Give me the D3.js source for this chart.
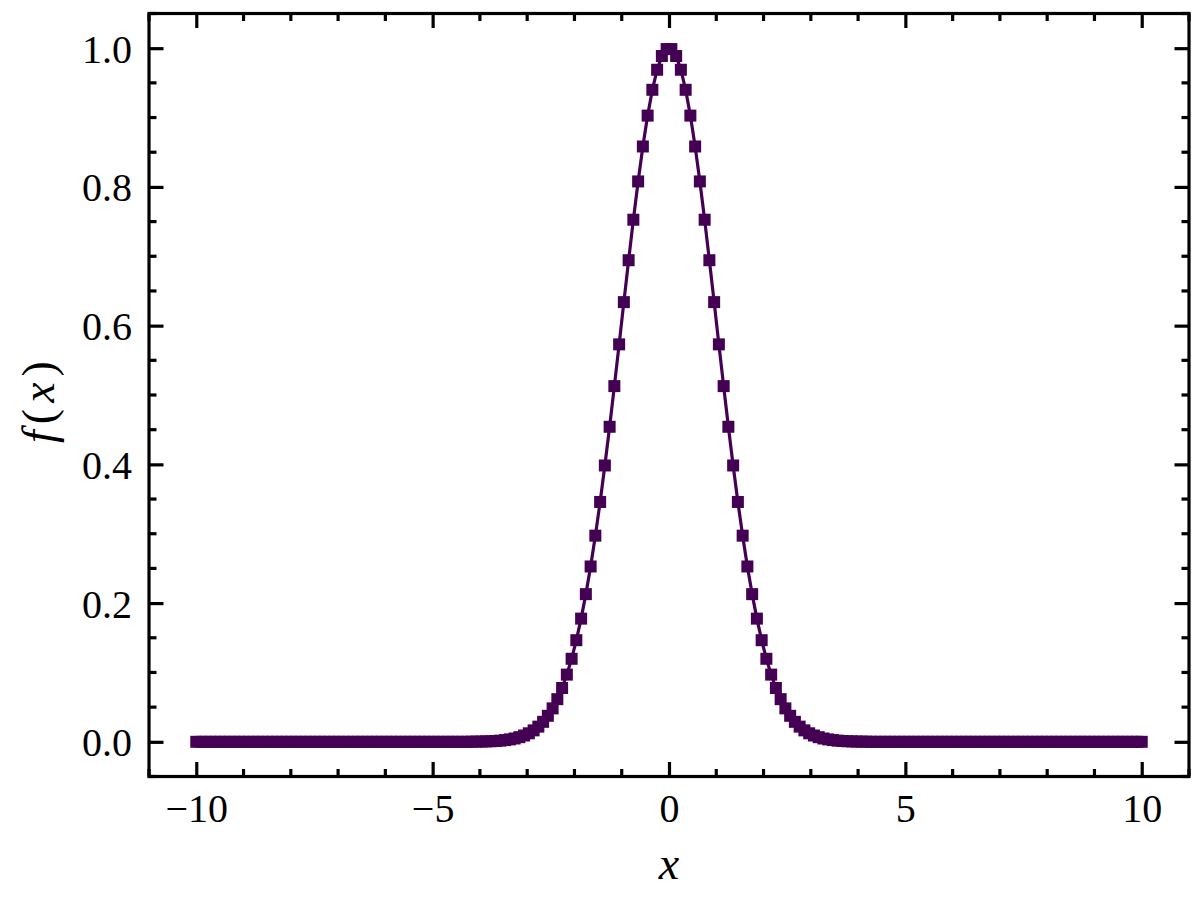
<!DOCTYPE html>
<html lang="en">
<head>
    <meta charset="UTF-8">
    <title>Gaussian</title>
    <script src="https://d3js.org/d3.v7.min.js"></script>
    <style>
        body{
            margin: 0;
            background: white;
        }
        .tick-label{
            font-family: "Liberation Serif", serif;
            font-size: 40px;
            fill: black;
        }
        .axis-label{
            font-family: "Liberation Serif", serif;
            font-style: italic;
            font-size: 46px;
            fill: black;
        }
    </style>
</head>
<body>
    <script>
        // x grid (200 points from -10 to 10)
        const xValues = [
            -10.000, -9.899, -9.799, -9.698, -9.598, -9.497, -9.397, -9.296, -9.196, -9.095,
            -8.995, -8.894, -8.794, -8.693, -8.593, -8.492, -8.392, -8.291, -8.191, -8.090,
            -7.990, -7.889, -7.789, -7.688, -7.588, -7.487, -7.387, -7.286, -7.186, -7.085,
            -6.985, -6.884, -6.784, -6.683, -6.583, -6.482, -6.382, -6.281, -6.181, -6.080,
            -5.980, -5.879, -5.779, -5.678, -5.578, -5.477, -5.377, -5.276, -5.176, -5.075,
            -4.975, -4.874, -4.774, -4.673, -4.573, -4.472, -4.372, -4.271, -4.171, -4.070,
            -3.970, -3.869, -3.769, -3.668, -3.568, -3.467, -3.367, -3.266, -3.166, -3.065,
            -2.965, -2.864, -2.764, -2.663, -2.563, -2.462, -2.362, -2.261, -2.161, -2.060,
            -1.960, -1.859, -1.759, -1.658, -1.558, -1.457, -1.357, -1.256, -1.156, -1.055,
            -0.955, -0.854, -0.754, -0.653, -0.553, -0.452, -0.352, -0.251, -0.151, -0.050,
            0.050, 0.151, 0.251, 0.352, 0.452, 0.553, 0.653, 0.754, 0.854, 0.955,
            1.055, 1.156, 1.256, 1.357, 1.457, 1.558, 1.658, 1.759, 1.859, 1.960,
            2.060, 2.161, 2.261, 2.362, 2.462, 2.563, 2.663, 2.764, 2.864, 2.965,
            3.065, 3.166, 3.266, 3.367, 3.467, 3.568, 3.668, 3.769, 3.869, 3.970,
            4.070, 4.171, 4.271, 4.372, 4.472, 4.573, 4.673, 4.774, 4.874, 4.975,
            5.075, 5.176, 5.276, 5.377, 5.477, 5.578, 5.678, 5.779, 5.879, 5.980,
            6.080, 6.181, 6.281, 6.382, 6.482, 6.583, 6.683, 6.784, 6.884, 6.985,
            7.085, 7.186, 7.286, 7.387, 7.487, 7.588, 7.688, 7.789, 7.889, 7.990,
            8.090, 8.191, 8.291, 8.392, 8.492, 8.593, 8.693, 8.794, 8.894, 8.995,
            9.095, 9.196, 9.296, 9.397, 9.497, 9.598, 9.698, 9.799, 9.899, 10.000
        ]

        // f(x) values
        const fValues = [
            0, 0, 0, 0, 0, 0, 0, 0, 0, 0,
            0, 0, 0, 0, 0, 0, 0, 0, 0, 0,
            0, 0, 0, 0, 0, 0, 0, 0, 0, 0,
            0, 0, 0, 0, 0, 0, 0, 0, 0, 0,
            0, 0, 0, 0, 0, 0, 0, 0, 0, 0,
            0, 0, 0, 0, 0, 0, 0, 0, 0.0002, 0.0003,
            0.0004, 0.0006, 0.0008, 0.0012, 0.0017, 0.0025, 0.0035, 0.0048, 0.0067, 0.0091,
            0.0123, 0.0165, 0.0219, 0.0288, 0.0375, 0.0482, 0.0615, 0.0776, 0.0969, 0.1197,
            0.1465, 0.1776, 0.2129, 0.2528, 0.2972, 0.3458, 0.3984, 0.4542, 0.5128, 0.5730,
            0.6339, 0.6943, 0.7527, 0.8079, 0.8583, 0.9028, 0.9400, 0.9689, 0.9887, 0.9987,
            0.9987, 0.9887, 0.9689, 0.9400, 0.9028, 0.8583, 0.8079, 0.7527, 0.6943, 0.6339,
            0.5730, 0.5128, 0.4542, 0.3984, 0.3458, 0.2972, 0.2528, 0.2129, 0.1776, 0.1465,
            0.1197, 0.0969, 0.0776, 0.0615, 0.0482, 0.0375, 0.0288, 0.0219, 0.0165, 0.0123,
            0.0091, 0.0067, 0.0048, 0.0035, 0.0025, 0.0017, 0.0012, 0.0008, 0.0006, 0.0004,
            0.0003, 0.0002, 0, 0, 0, 0, 0, 0, 0, 0,
            0, 0, 0, 0, 0, 0, 0, 0, 0, 0,
            0, 0, 0, 0, 0, 0, 0, 0, 0, 0,
            0, 0, 0, 0, 0, 0, 0, 0, 0, 0,
            0, 0, 0, 0, 0, 0, 0, 0, 0, 0,
            0, 0, 0, 0, 0, 0, 0, 0, 0, 0
        ]

        const xMajorTicks = [-10, -5, 0, 5, 10]
        const xMinorTicks = [-11, -9, -8, -7, -6, -4, -3, -2, -1, 1, 2, 3, 4, 6, 7, 8, 9, 11]
        const yMajorTicks = [0, 0.2, 0.4, 0.6, 0.8, 1.0]
        const yMinorTicks = [-0.05, 0.05, 0.1, 0.15, 0.25, 0.3, 0.35, 0.45, 0.5, 0.55,
                             0.65, 0.7, 0.75, 0.85, 0.9, 0.95, 1.05]

        const data = xValues.map((x,i)=> ({x:x, y:fValues[i]}))

        const svgSize = {width:1204,height:904}
        const plot = {left:149,right:1189,top:13.5,bottom:776.5}
        const color = "#440154"
        const majorLen = 14.5, minorLen = 7.5, lw = 3.2

        const xScale = d3.scaleLinear().domain([-11,11]).range([plot.left,plot.right])
        const yScale = d3.scaleLinear().domain([-0.05,1.05]).range([plot.bottom,plot.top])

        const svg = d3.select("body")
                        .append("svg")
                        .attr("width",svgSize.width)
                        .attr("height",svgSize.height)

        // data: line first, then square markers
        const line = d3.line().x(d=> xScale(d.x)).y(d=> yScale(d.y))
        const clip = svg.append("clipPath").attr("id","clip")
        clip.append("rect")
            .attr("x",plot.left).attr("y",plot.top)
            .attr("width",plot.right-plot.left).attr("height",plot.bottom-plot.top)

        const dataG = svg.append("g").attr("clip-path","url(#clip)")
        dataG.append("path")
                .datum(data)
                .attr("d",line)
                .attr("fill","none")
                .attr("stroke",color)
                .attr("stroke-width",3.2)

        const ms = 12
        dataG.selectAll(".marker")
                .data(data)
                .enter()
                .append("rect")
                .attr("class","marker")
                .attr("x",d=> xScale(d.x)-ms/2)
                .attr("y",d=> yScale(d.y)-ms/2)
                .attr("width",ms)
                .attr("height",ms)
                .attr("fill",color)

        // inward ticks on all four sides
        const xAxisBottom = d3.axisBottom(xScale).tickValues(xMajorTicks).tickSize(-majorLen).tickFormat(d3.format("d")).tickPadding(17)
        const xAxisTop = d3.axisTop(xScale).tickValues(xMajorTicks).tickSize(-majorLen).tickFormat("")
        const yAxisLeft = d3.axisLeft(yScale).tickValues(yMajorTicks).tickSize(-majorLen).tickFormat(d3.format(".1f")).tickPadding(17)
        const yAxisRight = d3.axisRight(yScale).tickValues(yMajorTicks).tickSize(-majorLen).tickFormat("")

        function styleAxis(g){
            g.select(".domain").remove()
            g.selectAll(".tick line").attr("stroke","black").attr("stroke-width",lw)
            g.selectAll(".tick text").attr("class","tick-label").attr("fill","black")
        }

        const gB = svg.append("g").attr("transform",`translate(0,${plot.bottom})`).call(xAxisBottom).call(styleAxis)
        gB.selectAll(".tick text").attr("font-family",null).attr("font-size",null).attr("dy","0.71em")
        svg.append("g").attr("transform",`translate(0,${plot.top})`).call(xAxisTop).call(styleAxis)
        const gL = svg.append("g").attr("transform",`translate(${plot.left},0)`).call(yAxisLeft).call(styleAxis)
        gL.selectAll(".tick text").attr("dy","0.35em")
        svg.append("g").attr("transform",`translate(${plot.right},0)`).call(yAxisRight).call(styleAxis)

        // minor ticks
        const minorG = svg.append("g")
        minorG.selectAll(".mxb").data(xMinorTicks).enter().append("line")
                .attr("x1",d=> xScale(d)).attr("x2",d=> xScale(d))
                .attr("y1",plot.bottom).attr("y2",plot.bottom-minorLen)
        minorG.selectAll(".mxt").data(xMinorTicks).enter().append("line")
                .attr("x1",d=> xScale(d)).attr("x2",d=> xScale(d))
                .attr("y1",plot.top).attr("y2",plot.top+minorLen)
        minorG.selectAll(".myl").data(yMinorTicks).enter().append("line")
                .attr("y1",d=> yScale(d)).attr("y2",d=> yScale(d))
                .attr("x1",plot.left).attr("x2",plot.left+minorLen)
        minorG.selectAll(".myr").data(yMinorTicks).enter().append("line")
                .attr("y1",d=> yScale(d)).attr("y2",d=> yScale(d))
                .attr("x1",plot.right).attr("x2",plot.right-minorLen)
        minorG.selectAll("line").attr("stroke","black").attr("stroke-width",lw)

        // frame
        svg.append("rect")
            .attr("x",plot.left).attr("y",plot.top)
            .attr("width",plot.right-plot.left).attr("height",plot.bottom-plot.top)
            .attr("fill","none")
            .attr("stroke","black")
            .attr("stroke-width",lw)

        // axis labels
        svg.append("text")
            .attr("class","axis-label")
            .attr("x",(plot.left+plot.right)/2)
            .attr("y",879)
            .attr("text-anchor","middle")
            .text("x")

        const yLab = svg.append("text")
            .attr("class","axis-label")
            .attr("transform",`translate(54,${(plot.top+plot.bottom)/2+4}) rotate(-90)`)
            .attr("text-anchor","middle")
            .attr("letter-spacing","6px")
        yLab.append("tspan").text("f")
        yLab.append("tspan").attr("font-style","normal").text("(")
        yLab.append("tspan").text("x")
        yLab.append("tspan").attr("font-style","normal").text(")")
    </script>
</body>
</html>
